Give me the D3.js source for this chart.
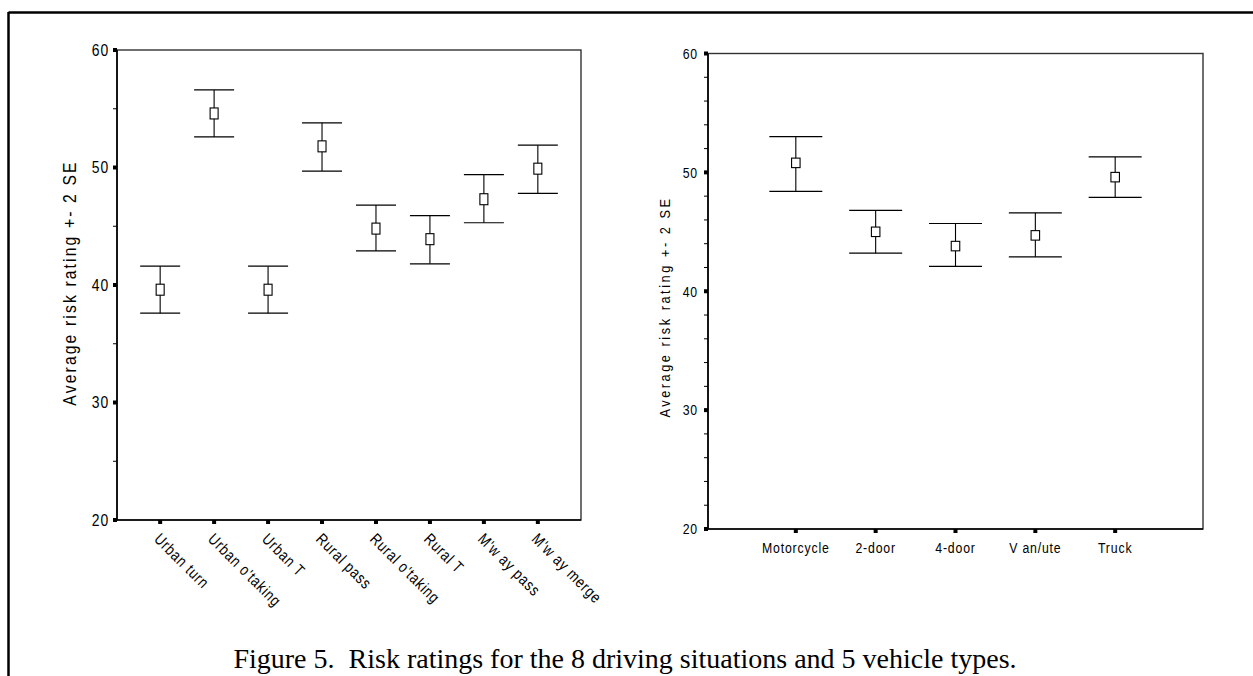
<!DOCTYPE html>
<html>
<head>
<meta charset="utf-8">
<script src="https://cdn.jsdelivr.net/npm/d3@7"></script>
<style>
  html, body { margin: 0; padding: 0; background: #fff; }
  svg { display: block; }
  .narrow { font-family: "Liberation Sans", Arial, sans-serif; }
</style>
</head>
<body>
<svg id="chart" width="1253" height="676"></svg>
<script>
// ---------- data ----------
const situations = ["Urban turn", "Urban o'taking", "Urban T", "Rural pass", "Rural o'taking", "Rural T", "M'w ay pass", "M'w ay merge"];
const situationMean  = [39.6, 54.6, 39.6, 51.8, 44.8, 43.9, 47.3, 49.9];
const situationLower = [37.6, 52.6, 37.6, 49.7, 42.9, 41.8, 45.3, 47.8];
const situationUpper = [41.6, 56.6, 41.6, 53.8, 46.8, 45.9, 49.4, 51.9];

const vehicles = ["Motorcycle", "2-door", "4-door", "V an/ute", "Truck"];
const vehicleMean  = [50.8, 45.0, 43.8, 44.7, 49.6];
const vehicleLower = [48.4, 43.2, 42.1, 42.9, 47.9];
const vehicleUpper = [53.0, 46.8, 45.7, 46.6, 51.3];

const yMajorTicks = [20, 30, 40, 50, 60];
const yMinorLeft  = [25, 35, 45, 55];
const yMinorRight = [22, 24, 26, 28, 32, 34, 36, 38, 42, 44, 46, 48, 52, 54, 56, 58];
const yTitle = "Average risk rating +- 2 SE";
const caption = "Figure 5.  Risk ratings for the 8 driving situations and 5 vehicle types.";

// ---------- drawing ----------
const svg = d3.select("#chart");
const SQ = 0.82; // horizontal squeeze to imitate a narrow sans face

// outer figure border (top and left)
svg.append("line").attr("x1", 8.5).attr("x2", 1253).attr("y1", 12.5).attr("y2", 12.5)
  .attr("stroke", "#000").attr("stroke-width", 2.5);
svg.append("line").attr("x1", 8.5).attr("x2", 8.5).attr("y1", 12).attr("y2", 676)
  .attr("stroke", "#000").attr("stroke-width", 2.5);

function panel(cfg) {
  const g = svg.append("g");
  const x = d3.scalePoint().domain(cfg.cats).range([cfg.left, cfg.right]).padding(cfg.pad);
  const y = d3.scaleLinear().domain([20, 60]).range([cfg.bottom, cfg.top]);

  // frame
  g.append("rect").attr("x", cfg.left).attr("y", cfg.top)
    .attr("width", cfg.right - cfg.left).attr("height", cfg.bottom - cfg.top)
    .attr("fill", "none").attr("stroke", "#333").attr("stroke-width", 1.4);
  g.append("line").attr("x1", cfg.left).attr("x2", cfg.left).attr("y1", cfg.top).attr("y2", cfg.bottom)
    .attr("stroke", "#000").attr("stroke-width", 1.6);
  g.append("line").attr("x1", cfg.left).attr("x2", cfg.right).attr("y1", cfg.bottom).attr("y2", cfg.bottom)
    .attr("stroke", "#000").attr("stroke-width", 1.6);

  // minor y ticks
  g.selectAll(".ymin").data(cfg.minor).join("line")
    .attr("x1", cfg.left - 4).attr("x2", cfg.left)
    .attr("y1", d => y(d)).attr("y2", d => y(d))
    .attr("stroke", "#000").attr("stroke-width", 1);
  // major y ticks (small squares)
  g.selectAll(".ymaj").data(yMajorTicks).join("rect")
    .attr("x", cfg.left - 4).attr("y", d => y(d) - 2)
    .attr("width", 4).attr("height", 4).attr("fill", "#000");
  // y labels
  g.selectAll(".ylab").data(yMajorTicks).join("text")
    .attr("class", "narrow")
    .attr("transform", d => `translate(${cfg.left - cfg.ylabGap},${y(d)}) scale(${SQ},1)`)
    .attr("dy", "0.35em").attr("text-anchor", "end")
    .attr("font-size", cfg.ylabSize).attr("letter-spacing", 1)
    .text(d => d);

  // x ticks
  g.selectAll(".xt").data(cfg.cats).join("rect")
    .attr("x", d => x(d) - 2).attr("y", cfg.bottom)
    .attr("width", 4).attr("height", 4).attr("fill", "#000");

  // x labels
  if (cfg.rotate) {
    g.selectAll(".xl").data(cfg.cats).join("text")
      .attr("class", "narrow")
      .attr("transform", d => `translate(${x(d) - 7},${cfg.bottom + 20}) rotate(45) scale(${SQ},1)`)
      .attr("font-size", cfg.xlabSize).attr("letter-spacing", 1)
      .text(d => d);
  } else {
    g.selectAll(".xl").data(cfg.cats).join("text")
      .attr("class", "narrow")
      .attr("transform", d => `translate(${x(d)},${cfg.bottom + 24}) scale(${SQ},1)`)
      .attr("text-anchor", "middle")
      .attr("font-size", cfg.xlabSize).attr("letter-spacing", 1)
      .text(d => d);
  }

  // y title
  g.append("text").attr("class", "narrow")
    .attr("transform", `translate(${cfg.titleX},${cfg.titleY}) rotate(-90) scale(0.85,1)`)
    .attr("text-anchor", "middle").attr("font-size", cfg.titleSize).attr("letter-spacing", cfg.titleLs)
    .text(yTitle);

  // error bars
  const idx = d3.range(cfg.cats.length);
  const cx = i => x(cfg.cats[i]);
  g.selectAll(".stem").data(idx).join("line")
    .attr("x1", cx).attr("x2", cx)
    .attr("y1", i => y(cfg.upper[i])).attr("y2", i => y(cfg.lower[i]))
    .attr("stroke", "#000").attr("stroke-width", 1.1);
  g.selectAll(".capU").data(idx).join("line")
    .attr("x1", i => cx(i) - cfg.capHalf).attr("x2", i => cx(i) + cfg.capHalf)
    .attr("y1", i => y(cfg.upper[i])).attr("y2", i => y(cfg.upper[i]))
    .attr("stroke", "#000").attr("stroke-width", 1.2);
  g.selectAll(".capL").data(idx).join("line")
    .attr("x1", i => cx(i) - cfg.capHalf).attr("x2", i => cx(i) + cfg.capHalf)
    .attr("y1", i => y(cfg.lower[i])).attr("y2", i => y(cfg.lower[i]))
    .attr("stroke", "#000").attr("stroke-width", 1.2);
  g.selectAll(".mk").data(idx).join("rect")
    .attr("x", i => cx(i) - cfg.boxW / 2).attr("y", i => y(cfg.mean[i]) - cfg.boxH / 2)
    .attr("width", cfg.boxW).attr("height", cfg.boxH)
    .attr("fill", "#fff").attr("stroke", "#000").attr("stroke-width", 1.1);
}

panel({
  cats: situations, mean: situationMean, lower: situationLower, upper: situationUpper,
  left: 117, right: 581, top: 50, bottom: 520, pad: 0.8,
  minor: yMinorLeft, ylabGap: 8, ylabSize: 17, xlabSize: 16, rotate: true,
  titleX: 76, titleY: 283, titleSize: 18.5, titleLs: 2.5, capHalf: 20, boxW: 8, boxH: 11
});

panel({
  cats: vehicles, mean: vehicleMean, lower: vehicleLower, upper: vehicleUpper,
  left: 708, right: 1203, top: 53.5, bottom: 529, pad: 1.1,
  minor: yMinorRight, ylabGap: 10, ylabSize: 15, xlabSize: 15, rotate: false,
  titleX: 670, titleY: 307, titleSize: 15, titleLs: 3, capHalf: 26.5, boxW: 8.5, boxH: 9.5
});

// caption
svg.append("text")
  .attr("x", 625).attr("y", 668)
  .attr("text-anchor", "middle")
  .attr("font-family", "'Liberation Serif', 'Times New Roman', serif")
  .attr("font-size", 28)
  .style("white-space", "pre")
  .text(caption);
</script>
</body>
</html>
